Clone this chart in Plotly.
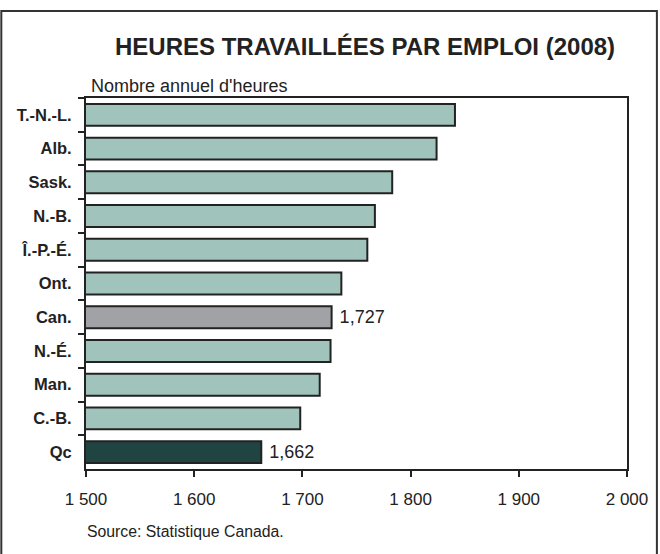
import plotly.graph_objects as go

categories = ["T.-N.-L.", "Alb.", "Sask.", "N.-B.", "Î.-P.-É.", "Ont.", "Can.", "N.-É.", "Man.", "C.-B.", "Qc"]
hours = [1841, 1824, 1783, 1767, 1760, 1736, 1727, 1726, 1716, 1698, 1662]
labelled = ["Can.", "Qc"]
x_ticks = [1500, 1600, 1700, 1800, 1900, 2000]

title = "HEURES TRAVAILLÉES PAR EMPLOI (2008)"
subtitle = "Nombre annuel d'heures"
source = "Source: Statistique Canada."

TEAL = "#a0c4bb"
GRAY = "#a0a2a5"
DARK = "#1f4442"
colors = [GRAY if c == "Can." else DARK if c == "Qc" else TEAL for c in categories]
texts = [f" {v:,}" if c in labelled else "" for c, v in zip(categories, hours)]

W, H = 660, 554
L, R, T, B = 86, 629, 98, 469

fig = go.Figure(go.Bar(
    x=hours, y=categories, orientation="h",
    base=0,
    marker=dict(color=colors, line=dict(color="#222222", width=2)),
    text=texts, textposition="outside", cliponaxis=False,
    textfont=dict(family="Liberation Sans, Arial", size=18, color="#222222"),
    hoverinfo="x+y",
))

pw, ph = R - L, B - T
def px(x):
    return (x - L) / pw
def py(y):
    return (B - y) / ph

fig.update_layout(
    width=W, height=H,
    margin=dict(l=L, r=W - R, t=T, b=H - B, pad=0),
    paper_bgcolor="white", plot_bgcolor="white",
    showlegend=False,
    bargap=0.35,
    separators=". ",
    font=dict(family="Liberation Sans, Arial", color="#222222"),
    xaxis=dict(
        range=[1500, 2000], tickvals=x_ticks,
        tickformat=",d",
        showgrid=False, zeroline=False,
        showline=True, mirror=True, linecolor="#222222", linewidth=2,
        ticks="outside", ticklen=6, tickwidth=2, tickcolor="#222222",
        tickfont=dict(size=17, color="#222222"),
        ticklabelstandoff=8,
        fixedrange=True,
    ),
    yaxis=dict(
        autorange="reversed", type="category",
        showgrid=False, zeroline=False,
        showline=True, mirror=True, linecolor="#222222", linewidth=2,
        ticks="outside", ticklen=6, tickwidth=2, tickcolor="#222222",
        tickson="boundaries",
        tickfont=dict(size=16.5, color="#222222", weight="bold"),
        ticklabelstandoff=9,
        fixedrange=True,
    ),
    shapes=[dict(
        type="rect", xref="paper", yref="paper",
        x0=px(1), x1=px(659), y0=py(562), y1=py(11),
        line=dict(color="#333333", width=2), fillcolor="rgba(0,0,0,0)", layer="below",
    )],
    annotations=[
        dict(text=f"<b>{title}</b>", xref="paper", yref="paper",
             x=px(366), y=py(47), xanchor="center", yanchor="middle",
             showarrow=False, font=dict(size=24, color="#222222")),
        dict(text=subtitle, xref="paper", yref="paper",
             x=px(89), y=py(86), xanchor="left", yanchor="middle",
             showarrow=False, font=dict(size=18, color="#222222")),
        dict(text=source, xref="paper", yref="paper",
             x=px(85), y=py(531), xanchor="left", yanchor="middle",
             showarrow=False, font=dict(size=15.8, color="#222222")),
    ],
)

fig.write_html("out.html", config={"displayModeBar": False},
               post_script="document.body.style.margin='0';document.body.style.padding='0';")
